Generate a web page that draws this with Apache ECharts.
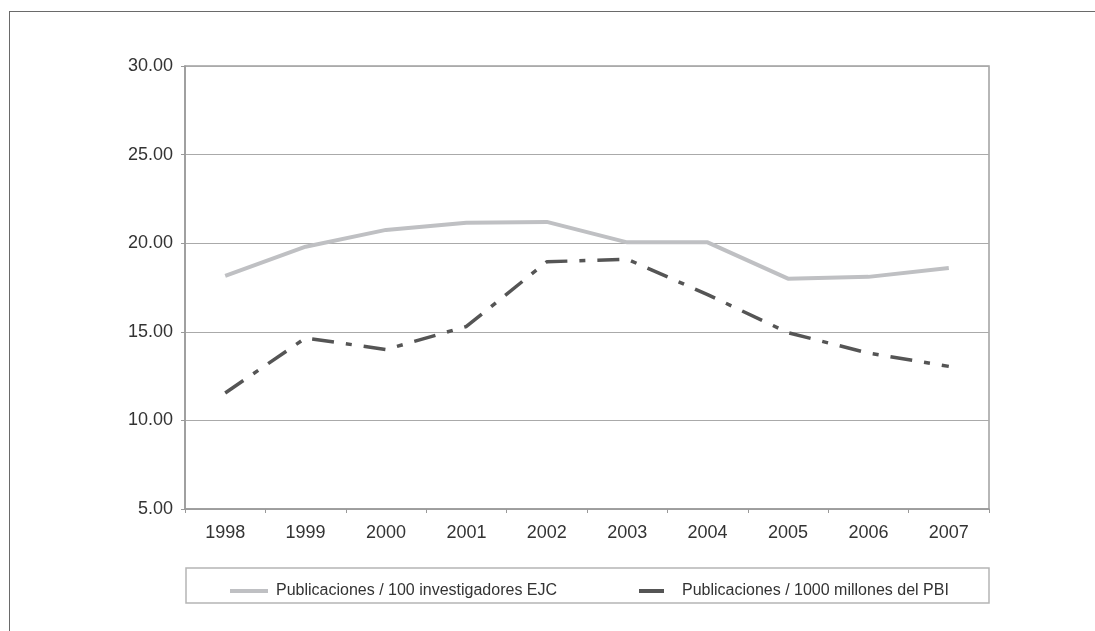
<!DOCTYPE html>
<html>
<head>
<meta charset="utf-8">
<script src="https://cdn.jsdelivr.net/npm/echarts@6/dist/echarts.min.js"></script>
<style>
  html, body { margin: 0; padding: 0; background: #fff; }
  #frame { position: absolute; left: 9px; top: 11px; width: 1086px; height: 620px;
           border-left: 1.5px solid #6a6a6a; border-top: 1.5px solid #6a6a6a; }
  #main { position: absolute; left: 0; top: 0; width: 1095px; height: 631px; }
</style>
</head>
<body>
<div id="frame"></div>
<div id="main"></div>
<script>
  // datos
  var years = ['1998', '1999', '2000', '2001', '2002', '2003', '2004', '2005', '2006', '2007'];
  var pubInvestigadores = [18.15, 19.8, 20.75, 21.15, 21.2, 20.05, 20.05, 18.0, 18.1, 18.6];
  var pubPBI = [11.55, 14.65, 14.0, 15.3, 18.95, 19.1, 17.1, 14.95, 13.8, 13.05];
  var serieNames = ['Publicaciones / 100 investigadores EJC', 'Publicaciones / 1000 millones del PBI'];

  var chart = echarts.init(document.getElementById('main'));
  var font = 'Liberation Sans, Arial, Helvetica, sans-serif';

  var option = {
    animation: false,
    grid: {
      left: 185, right: 106, top: 66, bottom: 122,
      show: true, borderColor: '#a0a0a0', borderWidth: 1.5, backgroundColor: 'transparent'
    },
    legend: [{
      data: [serieNames[0]],
      left: 225, top: 578,
      icon: 'rect', itemWidth: 38, itemHeight: 4,
      textStyle: { fontFamily: font, fontSize: 16, color: '#333', padding: [0, 0, 0, 3] }
    }, {
      data: [serieNames[1]],
      left: 634, top: 578,
      icon: 'rect', itemWidth: 25, itemHeight: 4,
      textStyle: { fontFamily: font, fontSize: 16, color: '#333', padding: [0, 0, 0, 13] }
    }],
    graphic: [{
      type: 'rect',
      shape: { x: 186, y: 568, width: 803, height: 35 },
      style: { fill: 'none', stroke: '#b5b5b5', lineWidth: 1.5 },
      z: -1
    }],
    xAxis: {
      type: 'category',
      data: years,
      boundaryGap: true,
      axisLine: { lineStyle: { color: '#999', width: 1.5 } },
      axisTick: { show: true, length: 4, lineStyle: { color: '#999' } },
      axisLabel: { fontFamily: font, fontSize: 18, color: '#333', margin: 15 },
      splitLine: { show: false }
    },
    yAxis: {
      type: 'value',
      min: 5, max: 30, interval: 5,
      axisLine: { show: true, lineStyle: { color: '#999', width: 1.5 } },
      axisTick: { show: true, length: 4, lineStyle: { color: '#999' } },
      axisLabel: {
        fontFamily: font, fontSize: 18, color: '#333', margin: 12,
        formatter: function (v) { return v.toFixed(2); }
      },
      splitLine: { show: true, lineStyle: { color: '#aaa', width: 1 } }
    },
    series: [{
      name: serieNames[0],
      type: 'line',
      data: pubInvestigadores,
      symbol: 'none',
      color: '#bfc0c3',
      lineStyle: { color: '#bfc0c3', width: 4 }
    }, {
      name: serieNames[1],
      type: 'line',
      data: pubPBI,
      symbol: 'none',
      color: '#555555',
      lineStyle: { color: '#555555', width: 3.5, type: [22, 12, 6, 12] }
    }]
  };

  chart.setOption(option);
</script>
</body>
</html>
